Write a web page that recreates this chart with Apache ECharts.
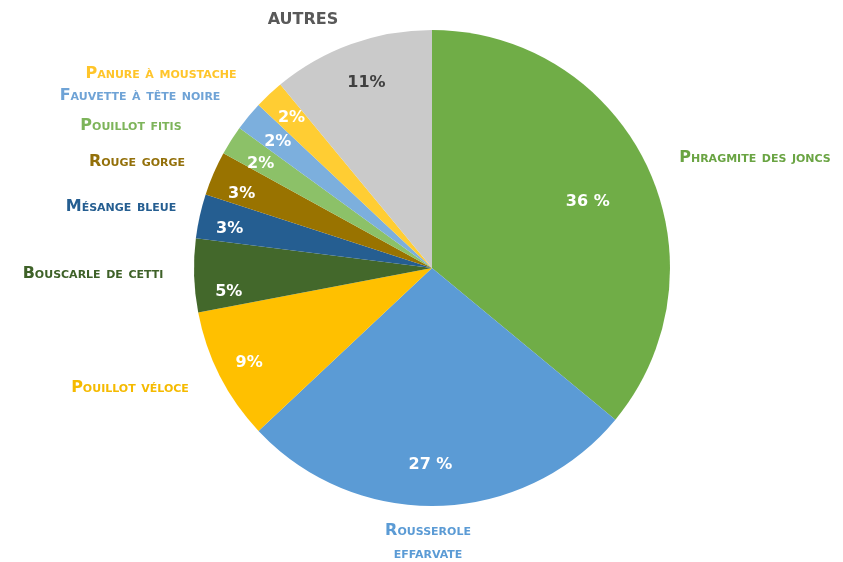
<!DOCTYPE html>
<html>
<head>
<meta charset="utf-8">
<title>Répartition des captures par espèce</title>
<script src="https://cdn.jsdelivr.net/npm/echarts@6/dist/echarts.min.js"></script>
<style>
  html, body { margin: 0; padding: 0; background: #ffffff; }
  #chart { width: 843px; height: 562px; }
</style>
</head>
<body>
<div id="chart"></div>
<script>
// Species, in clockwise order from twelve o'clock
const species = [
  'Phragmite des joncs',
  'Rousserole\neffarvate',
  'Pouillot véloce',
  'Bouscarle de cetti',
  'Mésange bleue',
  'Rouge gorge',
  'Pouillot fitis',
  'Fauvette à tête noire',
  'Panure à moustache',
  'AUTRES'
];
// Share of captures (%)
const shares = [36, 27, 9, 5, 3, 3, 2, 2, 2, 11];
// Separator between number and % sign in the slice labels
const pctSep = [' ', ' ', '', '', '', '', '', '', '', ''];

// Styling
const sliceColors = ['#70AD47', '#5B9BD5', '#FFC000', '#43682B', '#255E91',
                     '#997300', '#8CC168', '#7CAFDD', '#FFCD33', '#CACACA'];
const nameColors  = ['#6AA443', '#5B9BD5', '#F5BA00', '#3E6128', '#255E91',
                     '#93700A', '#7DB45A', '#6FA3D6', '#FFC52A', '#595959'];
const pctColors   = ['#ffffff', '#ffffff', '#ffffff', '#ffffff', '#ffffff',
                     '#ffffff', '#ffffff', '#ffffff', '#ffffff', '#404040'];
// Name label anchor points (centre of each label), in px
const namePos = [[755, 158], [428, 542], [130, 388], [93, 274], [121, 207],
                 [137, 162], [131, 126], [140, 96], [161, 74], [303, 20]];
// Percent label nudges, in px
const pctNudge = [[-30, 21], [-8, -8], [0, 2], [2, 17], [-2, 6],
                  [-2, 7], [2, 6], [4, 5], [0, 0], [4, 8]];

const CX = 432, CY = 268, R = 238;
const FONT = '"DejaVu Sans", "Noto Sans", sans-serif';

const items = species.map((n, i) => ({
  name: n,
  value: shares[i],
  itemStyle: { color: sliceColors[i] },
  label: { color: nameColors[i] }
}));
const pctItems = species.map((n, i) => ({
  name: n,
  value: shares[i],
  label: { color: pctColors[i] }
}));

const chart = echarts.init(document.getElementById('chart'), null, { renderer: 'canvas' });
chart.setOption({
  backgroundColor: '#ffffff',
  animation: false,
  series: [
    {
      type: 'pie',
      center: [CX, CY],
      radius: [0, R],
      startAngle: 90,
      clockwise: true,
      avoidLabelOverlap: false,
      silent: true,
      itemStyle: { borderWidth: 0 },
      label: {
        show: true,
        position: 'outside',
        formatter: p => p.name,
        fontFamily: FONT,
        fontStyle: 'small-caps',
        fontWeight: 'bold',
        fontSize: 16,
        lineHeight: 23
      },
      labelLine: { show: false },
      labelLayout: p => ({
        x: namePos[p.dataIndex][0],
        y: namePos[p.dataIndex][1],
        align: 'center',
        verticalAlign: 'middle'
      }),
      data: items
    },
    {
      // transparent ring that carries the percentage labels
      type: 'pie',
      center: [CX, CY],
      radius: [R * 0.7, R],
      startAngle: 90,
      clockwise: true,
      avoidLabelOverlap: false,
      silent: true,
      itemStyle: { color: 'rgba(0,0,0,0)', borderWidth: 0 },
      label: {
        show: true,
        position: 'inside',
        formatter: p => p.value + pctSep[p.dataIndex] + '%',
        fontFamily: FONT,
        fontWeight: 'bold',
        fontSize: 16
      },
      labelLine: { show: false },
      labelLayout: p => ({
        dx: pctNudge[p.dataIndex][0],
        dy: pctNudge[p.dataIndex][1]
      }),
      data: pctItems
    }
  ]
});
</script>
</body>
</html>
